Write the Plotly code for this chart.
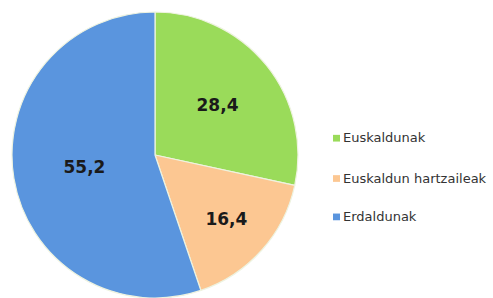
import plotly.graph_objects as go

labels = ["Euskaldunak", "Euskaldun hartzaileak", "Erdaldunak"]
values = [28.4, 16.4, 55.2]
text_labels = ["28,4", "16,4", "55,2"]
colors = ["#9ADB5A", "#FCC792", "#5A95DE"]

W, H = 493, 298

fig = go.Figure()
fig.add_trace(go.Pie(
    labels=labels,
    values=values,
    text=text_labels,
    textinfo="text",
    textposition="inside",
    insidetextorientation="horizontal",
    sort=False,
    direction="clockwise",
    rotation=0,
    marker=dict(colors=colors, line=dict(color="#EEF3E0", width=1.2)),
    insidetextfont=dict(family="DejaVu Sans", size=17, color="#1A1A1A", weight="bold"),
    domain=dict(x=[0, 310 / W], y=[0, 1]),
    showlegend=False,
    hoverinfo="label+value",
))

# manual legend (layout positions only; content from data lists)
legend_x = 333
legend_y = [131, 173, 213]
for lab, col, ly in zip(labels, colors, legend_y):
    fig.add_shape(type="rect", xref="paper", yref="paper",
                  x0=legend_x / W, x1=(legend_x + 7) / W,
                  y0=1 - (ly + 4) / H, y1=1 - (ly - 3) / H,
                  fillcolor=col, line=dict(color=col, width=0))
    fig.add_annotation(x=(legend_x + 8) / W, y=1 - ly / H, xref="paper", yref="paper",
                       text=lab, showarrow=False, xanchor="left", yanchor="middle",
                       font=dict(family="DejaVu Sans", size=13, color="#333333"))

fig.update_layout(
    width=W, height=H,
    margin=dict(l=0, r=0, t=12, b=0),
    paper_bgcolor="white",
    plot_bgcolor="white",
    font=dict(family="DejaVu Sans"),
    uniformtext=dict(minsize=17, mode="show"),
)

fig.write_html("out.html", config={"displayModeBar": False},
               post_script="document.body.style.margin='0';")
